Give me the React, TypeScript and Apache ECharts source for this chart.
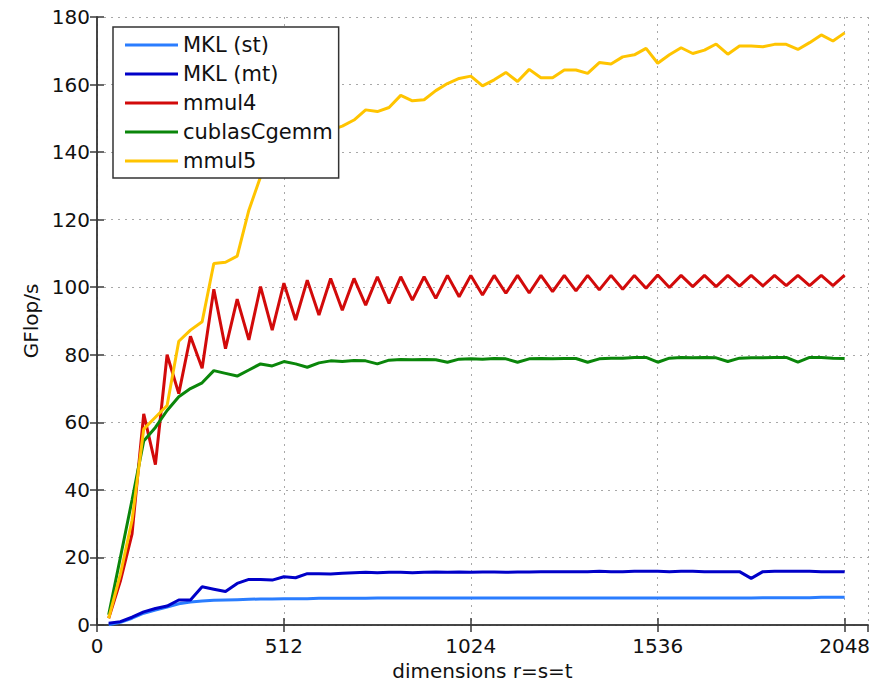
import React, { useEffect, useRef } from "react";
import * as echarts from "echarts";

const dims = [
  32, 64, 96, 128, 160, 192, 224, 256, 288, 320, 352, 384, 416, 448, 480, 512,
  544, 576, 608, 640, 672, 704, 736, 768, 800, 832, 864, 896, 928, 960, 992, 1024,
  1056, 1088, 1120, 1152, 1184, 1216, 1248, 1280, 1312, 1344, 1376, 1408, 1440, 1472, 1504, 1536,
  1568, 1600, 1632, 1664, 1696, 1728, 1760, 1792, 1824, 1856, 1888, 1920, 1952, 1984, 2016, 2048,
];

const mklSt = [
  0.1, 0.8, 2.0, 3.5, 4.4, 5.3, 6.3, 6.8, 7.1, 7.3, 7.4, 7.5, 7.6, 7.7, 7.7, 7.8,
  7.8, 7.8, 7.9, 7.9, 7.9, 7.9, 7.9, 8.0, 8.0, 8.0, 8.0, 8.0, 8.0, 8.0, 8.0, 8.0,
  8.0, 8.0, 8.0, 8.0, 8.0, 8.0, 8.0, 8.0, 8.0, 8.0, 8.0, 8.0, 8.0, 8.0, 8.0, 8.0,
  8.0, 8.0, 8.0, 8.0, 8.0, 8.0, 8.0, 8.0, 8.1, 8.1, 8.1, 8.1, 8.1, 8.2, 8.2, 8.2,
];

const mklMt = [
  0.5, 1.0, 2.3, 3.9, 4.9, 5.6, 7.4, 7.4, 11.3, 10.6, 9.9, 12.3, 13.5, 13.5, 13.3, 14.3,
  14.0, 15.2, 15.2, 15.1, 15.3, 15.5, 15.6, 15.5, 15.6, 15.6, 15.5, 15.6, 15.7, 15.6, 15.7, 15.6,
  15.7, 15.7, 15.6, 15.7, 15.7, 15.8, 15.8, 15.8, 15.8, 15.8, 15.9, 15.8, 15.8, 15.9, 15.9, 15.9,
  15.8, 15.9, 15.9, 15.8, 15.8, 15.8, 15.8, 13.8, 15.8, 15.9, 15.9, 15.9, 15.9, 15.8, 15.8, 15.8,
];

const mmul4 = [
  2, 13, 27, 62.5, 47.5, 80, 68.5, 85.5, 76, 99.4, 81.8, 96.5, 84.4, 100.2, 87.3, 101.2,
  90.3, 102.1, 91.8, 102.6, 93.2, 102.6, 94.7, 103.1, 95.2, 103.1, 96.2, 103.1, 96.7, 103.5, 97.2, 103.5,
  97.7, 103.5, 98.2, 103.5, 98.3, 103.5, 98.7, 103.5, 98.9, 103.5, 99.2, 103.5, 99.4, 103.5, 99.7, 103.6,
  99.9, 103.5, 100.2, 103.5, 100.2, 103.5, 100.3, 103.5, 100.4, 103.5, 100.5, 103.5, 100.5, 103.5, 100.5, 103.6,
];

const cublasCgemm = [
  3, 20, 37, 54.5, 58.5, 63.5, 67.6, 70, 71.7, 75.3, 74.5, 73.7, 75.5, 77.3, 76.7, 78,
  77.3, 76.3, 77.6, 78.2, 78.0, 78.3, 78.2, 77.3, 78.4, 78.6, 78.5, 78.6, 78.5, 77.8, 78.7, 78.8,
  78.7, 78.9, 78.8, 77.8, 78.8, 78.9, 78.8, 78.9, 78.9, 77.8, 78.8, 79.0, 79.0, 79.2, 79.2, 77.8,
  79.0, 79.2, 79.1, 79.2, 79.1, 78.0, 79.0, 79.1, 79.1, 79.2, 79.2, 77.8, 79.2, 79.2, 79.0, 78.9,
];

const mmul5 = [
  2, 15, 31, 58, 61.5, 65, 84, 87.3, 89.8, 107, 107.4, 109.2, 122.8, 132.7, 137.5, 140.5,
  142.5, 144, 145.5, 146.5, 147.7, 149.5, 152.5, 152, 153.2, 156.8, 155.2, 155.5, 158.2, 160.3, 161.8, 162.5,
  159.6, 161.4, 163.6, 160.9, 164.5, 162, 162, 164.3, 164.3, 163.3, 166.5, 166.1, 168.2, 168.8, 170.7, 166.3,
  168.8, 170.9, 169.2, 170.2, 172, 169, 171.4, 171.4, 171.2, 171.9, 171.9, 170.4, 172.4, 174.7, 172.9, 175.3,
];

const seriesNames = ["MKL (st)", "MKL (mt)", "mmul4", "cublasCgemm", "mmul5"];
const seriesValues = [mklSt, mklMt, mmul4, cublasCgemm, mmul5];
const seriesColors = ["#2a7dff", "#0000c8", "#d20a0a", "#0a860a", "#ffc400"];

const xMin = 0;
const xMax = 2112;
const xStep = 512;
const yMin = 0;
const yMax = 180;
const yStep = 20;

const FONT = "DejaVu Sans";

export default function App() {
  const ref = useRef<HTMLDivElement>(null);

  useEffect(() => {
    document.body.style.margin = "0";
    if (!ref.current) return;
    const chart = echarts.init(ref.current, null, { renderer: "svg" });

    const axisLineStyle = { color: "#3a3a3a", width: 1.5 };
    const gridLineStyle = { color: "#a8a8a8", width: 1, type: [2, 5] as number[] };
    const labelStyle = { fontSize: 20, color: "#111", fontFamily: FONT };

    chart.setOption({
      animation: false,
      backgroundColor: "#ffffff",
      textStyle: { fontFamily: FONT },
      grid: { left: 97, right: 17, top: 17, bottom: 58, outerBoundsMode: "none" },
      legend: {
        orient: "vertical",
        left: 113,
        top: 27,
        padding: [6, 6, 5, 12],
        itemGap: 5,
        itemWidth: 53,
        itemHeight: 3,
        icon: "rect",
        borderColor: "#333",
        borderWidth: 1.5,
        backgroundColor: "#ffffff",
        textStyle: { fontSize: 21, color: "#111", fontFamily: FONT, lineHeight: 24 },
        data: seriesNames,
        selectedMode: false,
      },
      xAxis: [
        {
          type: "value",
          position: "bottom",
          min: xMin,
          max: xMax,
          interval: xStep,
          axisLine: { show: true, lineStyle: axisLineStyle },
          axisTick: { show: true, inside: true, length: 7, lineStyle: axisLineStyle },
          axisLabel: {
            ...labelStyle,
            margin: 11,
            showMaxLabel: false,
            formatter: (v: number) => String(v),
          },
          splitLine: { show: true, lineStyle: gridLineStyle },
          name: "dimensions r=s=t",
          nameLocation: "middle",
          nameGap: 31,
          nameTextStyle: { fontSize: 20, color: "#111", fontFamily: FONT },
        },
        {
          type: "value",
          position: "top",
          min: xMin,
          max: xMax,
          interval: xStep,
          axisLine: { show: true, lineStyle: axisLineStyle },
          axisTick: { show: true, inside: true, length: 7, lineStyle: axisLineStyle },
          axisLabel: { show: false },
          splitLine: { show: false },
        },
      ],
      yAxis: [
        {
          type: "value",
          position: "left",
          min: yMin,
          max: yMax,
          interval: yStep,
          axisLine: { show: true, lineStyle: axisLineStyle },
          axisTick: { show: true, inside: true, length: 7, lineStyle: axisLineStyle },
          axisLabel: { ...labelStyle, margin: 7, formatter: (v: number) => String(v) },
          splitLine: { show: true, lineStyle: gridLineStyle },
          name: "GFlop/s",
          nameLocation: "middle",
          nameGap: 56,
          nameTextStyle: { fontSize: 20, color: "#111", fontFamily: FONT },
        },
        {
          type: "value",
          position: "right",
          min: yMin,
          max: yMax,
          interval: yStep,
          axisLine: { show: true, lineStyle: axisLineStyle },
          axisTick: { show: true, inside: true, length: 7, lineStyle: axisLineStyle },
          axisLabel: { show: false },
          splitLine: { show: false },
        },
      ],
      series: seriesNames.map((name, si) => ({
        name,
        type: "line",
        xAxisIndex: 0,
        yAxisIndex: 0,
        showSymbol: false,
        symbol: "none",
        color: seriesColors[si],
        lineStyle: { width: 3, color: seriesColors[si] },
        emphasis: { disabled: true },
        data: dims.map((d, i) => [d, seriesValues[si][i]]),
      })),
    });

    return () => chart.dispose();
  }, []);

  return <div ref={ref} style={{ width: 885, height: 683 }} />;
}
